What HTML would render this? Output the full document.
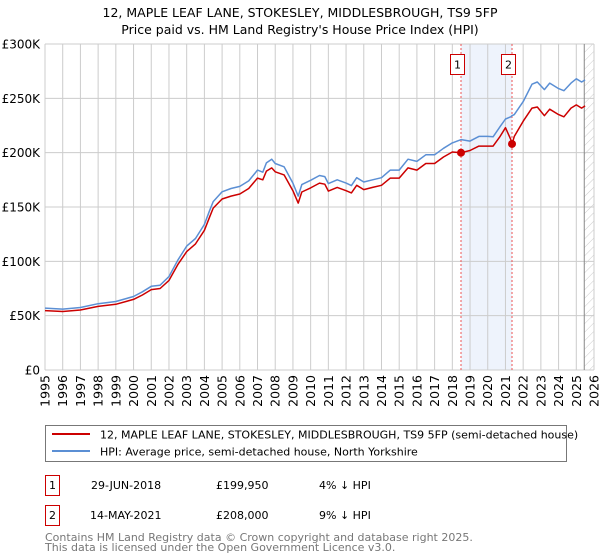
<!DOCTYPE html>
<html><head><meta charset="utf-8"><style>
body{margin:0;background:#fff;font-family:"Liberation Sans","DejaVu Sans",sans-serif;}
svg{display:block}
</style></head><body>
<svg id="chart" width="600" height="560" xmlns="http://www.w3.org/2000/svg" font-family="DejaVu Sans, Liberation Sans, sans-serif">
<defs>
<pattern id="hatch" width="6" height="6" patternUnits="userSpaceOnUse" patternTransform="rotate(45)">
<line x1="0" y1="0" x2="0" y2="6" stroke="#ccc" stroke-width="1"/></pattern>
</defs>
<text x="300" y="17" text-anchor="middle" font-size="12.5" fill="#000">12, MAPLE LEAF LANE, STOKESLEY, MIDDLESBROUGH, TS9 5FP</text>
<text x="300" y="34" text-anchor="middle" font-size="12.5" fill="#000">Price paid vs. HM Land Registry's House Price Index (HPI)</text>
<g id="grid"></g>
<g id="marks"></g>
<g id="axes"></g>
<g>
<rect x="45.5" y="425.5" width="521" height="36" fill="#fff" stroke="#777"/>
<line x1="52" y1="434" x2="90" y2="434" stroke="#cc0000" stroke-width="2"/>
<text x="100" y="438.5" font-size="11">12, MAPLE LEAF LANE, STOKESLEY, MIDDLESBROUGH, TS9 5FP (semi-detached house)</text>
<line x1="52" y1="451" x2="90" y2="451" stroke="#5b8fd4" stroke-width="2"/>
<text x="100" y="455.5" font-size="11">HPI: Average price, semi-detached house, North Yorkshire</text>
</g>
<g font-size="11">
<rect x="45.5" y="475.5" width="14" height="20" fill="#fff" stroke="#cc0000"/>
<text x="52.5" y="489" text-anchor="middle">1</text>
<text x="91" y="489">29-JUN-2018</text>
<text x="216" y="489">£199,950</text>
<text x="319" y="489">4% ↓ HPI</text>
<rect x="45.5" y="505.5" width="14" height="20" fill="#fff" stroke="#cc0000"/>
<text x="52.5" y="519" text-anchor="middle">2</text>
<text x="90" y="519">14-MAY-2021</text>
<text x="216" y="519">£208,000</text>
<text x="319" y="519">9% ↓ HPI</text>
</g>
<text x="45" y="541" font-size="11" fill="#777">Contains HM Land Registry data © Crown copyright and database right 2025.</text>
<text x="45" y="551" font-size="11" fill="#777">This data is licensed under the Open Government Licence v3.0.</text>
</svg>
<script>
const years=[1995,1996,1997,1998,1999,2000,2000.5,2001,2001.5,2002,2002.5,2003,2003.5,2004,2004.3,2004.5,2005,2005.5,2006,2006.5,2007,2007.3,2007.5,2007.8,2008,2008.5,2009,2009.3,2009.5,2010,2010.5,2010.8,2011,2011.5,2012,2012.3,2012.6,2013,2013.5,2014,2014.5,2015,2015.5,2016,2016.5,2017,2017.5,2018,2018.5,2019,2019.5,2020,2020.3,2020.7,2021,2021.3,2021.37,2021.5,2022,2022.5,2022.8,2023.2,2023.5,2024,2024.3,2024.7,2025,2025.3,2025.5];
const hpiValues=[57,56,57.5,61,63,67.6,72,77,78,86,101,114,121,134,147,155,164,167,169,174,184,182,190.6,194,190,187,172,160,170.6,174.6,179,178,171.5,175,172,169.7,177,173,175,177,184,184,194,192,198,198,204,209,212,210.6,215,215,214.6,224,231,233,234,235,247,263,265,258,264,259,257,264,268,265,267];
const propertyValues=[54.7,53.8,55.2,58.5,60.5,65,69,74,75,82.5,97,109,116,128.6,141,149,157.4,160,162,167,176.6,175,183,186,182.4,179.5,165,153.6,163.8,167.6,172,171,164.6,168,165,163,170,166,168,170,176.6,176.6,186,184,190,190,196,200.6,199.95,202,206,206,206,215,223,212,208,215,229,241,242,234,240,235,233,241,244,241,243];
const saleYears=[2018.49,2021.37];
const salePrices=[199.95,208];
const saleLabels=["1","2"];
const yTicks=[0,50,100,150,200,250,300];
const yTickLabels=["£0","£50K","£100K","£150K","£200K","£250K","£300K"];
const xTicks=[1995,1996,1997,1998,1999,2000,2001,2002,2003,2004,2005,2006,2007,2008,2009,2010,2011,2012,2013,2014,2015,2016,2017,2018,2019,2020,2021,2022,2023,2024,2025,2026];
const dataEnd=2025.45;

const NS="http://www.w3.org/2000/svg";
const X0=45,X1=594,Y0=370,Y1=44;
const sx=y=>X0+(y-1995)/(2026-1995)*(X1-X0);
const sy=v=>Y0-v/300*(Y0-Y1);
function mk(tag,attrs,parent){const e=document.createElementNS(NS,tag);for(const k in attrs)e.setAttribute(k,attrs[k]);parent.appendChild(e);return e;}
const grid=document.getElementById('grid'),marks=document.getElementById('marks'),axes=document.getElementById('axes');

let band=mk('rect',{x:sx(saleYears[0]),y:Y1,width:sx(saleYears[1])-sx(saleYears[0]),height:Y0-Y1,fill:'#eef3fc'},grid);


let hat=mk('rect',{x:sx(dataEnd),y:Y1,width:X1-sx(dataEnd),height:Y0-Y1,fill:'url(#hatch)'},grid);



xTicks.forEach(t=>{
  let l=mk('line',{x1:sx(t),x2:sx(t),y1:Y1,y2:Y0,stroke:'#ccc','stroke-width':1},grid);
  
  
  let tx=mk('text',{x:0,y:0,'font-size':12.5,'text-anchor':'end',transform:`translate(${sx(t)+4.5},${Y0+5}) rotate(-90)`},axes);
  tx.textContent=t;
  
  
});
yTicks.forEach((t,i)=>{
  let l=mk('line',{x1:X0,x2:X1,y1:sy(t),y2:sy(t),stroke:'#ccc','stroke-width':1},grid);
  
  
  let tx=mk('text',{x:X0-5,y:sy(t)+4.5,'font-size':12,'text-anchor':'end'},axes);
  tx.textContent=yTickLabels[i];
  
  
});
let dl=mk('line',{x1:sx(dataEnd),x2:sx(dataEnd),y1:Y1,y2:Y0,stroke:'#888','stroke-width':1},grid);



saleYears.forEach((y,i)=>{
  let l=mk('line',{x1:sx(y),x2:sx(y),y1:Y1,y2:Y0,stroke:'#ee5555','stroke-width':1,'stroke-dasharray':'2,2'},marks);
  
  
});

const path=vals=>vals.map((v,i)=>(i?'L':'M')+sx(years[i]).toFixed(1)+','+sy(v).toFixed(1)).join('');
let hp=mk('path',{d:path(hpiValues),fill:'none',stroke:'#5b8fd4','stroke-width':1.5,'stroke-linejoin':'round'},marks);


let pp=mk('path',{d:path(propertyValues),fill:'none',stroke:'#cc0000','stroke-width':1.5,'stroke-linejoin':'round'},marks);



saleYears.forEach((y,i)=>{
  let c=mk('circle',{cx:sx(y),cy:sy(salePrices[i]),r:4,fill:'#cc0000'},marks);
  
  
  let r=mk('rect',{x:sx(y)-10.5,y:54.5,width:14,height:20,fill:'#fff',stroke:'#cc0000'},marks);
  
  
  let t=mk('text',{x:sx(y)-3.5,y:68.5,'font-size':11,'text-anchor':'middle'},marks);
  t.textContent=saleLabels[i];
  
  
});
</script>
</body></html>
